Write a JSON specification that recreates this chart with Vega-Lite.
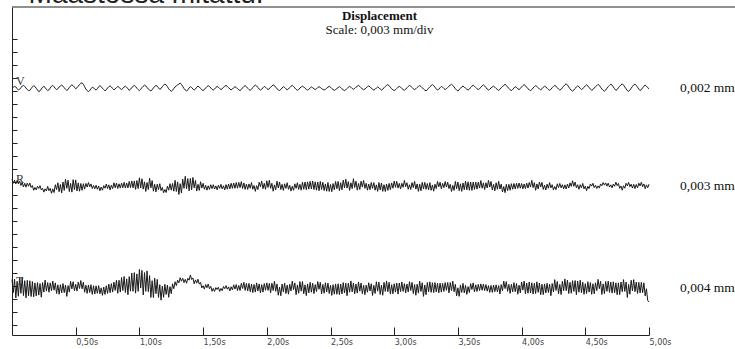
{
"$schema": "https://vega.github.io/schema/vega-lite/v6.json",
"width": 637, "height": 328,
"autosize": {"type": "none"},
"padding": {"left": 12, "top": 7, "right": 86, "bottom": 14},
"background": "white",
"config": {"view": {"stroke": null}},
"title": {"text": "Displacement", "subtitle": "Scale: 0,003 mm/div", "anchor": "middle", "frame": "group", "offset": -56, "dx": 49, "font": "Liberation Serif", "fontSize": 13, "fontWeight": "bold", "color": "#111", "subtitleFont": "Liberation Serif", "subtitleFontSize": 13, "subtitleColor": "#111", "subtitlePadding": 1},
"datasets": {
"meta": [
{"series": "V", "level": 1920, "scale": "0,002 mm"},
{"series": "R", "level": 1164, "scale": "0,003 mm"},
{"series": "T", "level": 380, "scale": "0,004 mm"}
],
"traces": [
{"t":0.00,"V":1920,"R":1219,"T":446},{"t":0.01,"V":1925,"R":1187,"T":346},{"t":0.02,"V":1932,"R":1211,"T":450},{"t":0.03,"V":1928,"R":1182,"T":305},{"t":0.04,"V":1915,"R":1209,"T":433},{"t":0.05,"V":1905,"R":1183,"T":318},{"t":0.06,"V":1910,"R":1203,"T":460},{"t":0.07,"V":1922,"R":1170,"T":341},{"t":0.08,"V":1935,"R":1195,"T":464},{"t":0.09,"V":1940,"R":1159,"T":323},
{"t":0.10,"V":1932,"R":1187,"T":438},{"t":0.11,"V":1920,"R":1157,"T":306},{"t":0.12,"V":1908,"R":1188,"T":440},{"t":0.13,"V":1900,"R":1164,"T":322},{"t":0.14,"V":1902,"R":1189,"T":437},{"t":0.15,"V":1915,"R":1155,"T":316},{"t":0.16,"V":1928,"R":1170,"T":431},{"t":0.17,"V":1938,"R":1133,"T":314},{"t":0.18,"V":1932,"R":1155,"T":421},{"t":0.19,"V":1918,"R":1136,"T":321},
{"t":0.20,"V":1905,"R":1164,"T":423},{"t":0.21,"V":1892,"R":1147,"T":327},{"t":0.22,"V":1898,"R":1169,"T":416},{"t":0.23,"V":1912,"R":1136,"T":311},{"t":0.24,"V":1926,"R":1149,"T":423},{"t":0.25,"V":1932,"R":1119,"T":350},{"t":0.26,"V":1924,"R":1144,"T":442},{"t":0.27,"V":1910,"R":1128,"T":357},{"t":0.28,"V":1900,"R":1164,"T":423},{"t":0.29,"V":1906,"R":1130,"T":349},
{"t":0.30,"V":1920,"R":1148,"T":421},{"t":0.31,"V":1934,"R":1110,"T":361},{"t":0.32,"V":1940,"R":1144,"T":435},{"t":0.33,"V":1930,"R":1116,"T":365},{"t":0.34,"V":1916,"R":1176,"T":421},{"t":0.35,"V":1908,"R":1139,"T":339},{"t":0.36,"V":1914,"R":1191,"T":406},{"t":0.37,"V":1928,"R":1122,"T":333},{"t":0.38,"V":1936,"R":1178,"T":407},{"t":0.39,"V":1942,"R":1113,"T":344},
{"t":0.40,"V":1934,"R":1197,"T":416},{"t":0.41,"V":1922,"R":1132,"T":346},{"t":0.42,"V":1910,"R":1219,"T":404},{"t":0.43,"V":1902,"R":1148,"T":317},{"t":0.44,"V":1908,"R":1210,"T":400},{"t":0.45,"V":1924,"R":1123,"T":350},{"t":0.46,"V":1936,"R":1186,"T":432},{"t":0.47,"V":1944,"R":1119,"T":375},{"t":0.48,"V":1938,"R":1215,"T":430},{"t":0.49,"V":1926,"R":1138,"T":361},
{"t":0.50,"V":1914,"R":1213,"T":410},{"t":0.51,"V":1922,"R":1128,"T":358},{"t":0.52,"V":1934,"R":1190,"T":427},{"t":0.53,"V":1946,"R":1126,"T":378},{"t":0.54,"V":1956,"R":1185,"T":439},{"t":0.55,"V":1960,"R":1133,"T":375},{"t":0.56,"V":1948,"R":1184,"T":426},{"t":0.57,"V":1930,"R":1142,"T":349},{"t":0.58,"V":1912,"R":1186,"T":403},{"t":0.59,"V":1900,"R":1158,"T":340},
{"t":0.60,"V":1892,"R":1193,"T":405},{"t":0.61,"V":1900,"R":1160,"T":347},{"t":0.62,"V":1914,"R":1182,"T":407},{"t":0.63,"V":1926,"R":1146,"T":333},{"t":0.64,"V":1922,"R":1170,"T":399},{"t":0.65,"V":1910,"R":1145,"T":335},{"t":0.66,"V":1904,"R":1172,"T":398},{"t":0.67,"V":1914,"R":1141,"T":341},{"t":0.68,"V":1930,"R":1166,"T":400},{"t":0.69,"V":1938,"R":1129,"T":337},
{"t":0.70,"V":1930,"R":1158,"T":383},{"t":0.71,"V":1918,"R":1134,"T":325},{"t":0.72,"V":1908,"R":1169,"T":389},{"t":0.73,"V":1898,"R":1149,"T":332},{"t":0.74,"V":1906,"R":1181,"T":399},{"t":0.75,"V":1920,"R":1147,"T":340},{"t":0.76,"V":1930,"R":1175,"T":412},{"t":0.77,"V":1936,"R":1136,"T":345},{"t":0.78,"V":1928,"R":1172,"T":415},{"t":0.79,"V":1916,"R":1146,"T":350},
{"t":0.80,"V":1906,"R":1191,"T":427},{"t":0.81,"V":1912,"R":1153,"T":363},{"t":0.82,"V":1924,"R":1188,"T":441},{"t":0.83,"V":1932,"R":1147,"T":341},{"t":0.84,"V":1926,"R":1183,"T":441},{"t":0.85,"V":1914,"R":1150,"T":350},{"t":0.86,"V":1908,"R":1188,"T":462},{"t":0.87,"V":1916,"R":1153,"T":362},{"t":0.88,"V":1928,"R":1194,"T":470},{"t":0.89,"V":1934,"R":1150,"T":347},
{"t":0.90,"V":1926,"R":1189,"T":452},{"t":0.91,"V":1914,"R":1151,"T":330},{"t":0.92,"V":1902,"R":1201,"T":469},{"t":0.93,"V":1910,"R":1154,"T":357},{"t":0.94,"V":1924,"R":1205,"T":497},{"t":0.95,"V":1932,"R":1152,"T":356},{"t":0.96,"V":1940,"R":1205,"T":500},{"t":0.97,"V":1932,"R":1140,"T":342},{"t":0.98,"V":1918,"R":1208,"T":490},{"t":0.99,"V":1908,"R":1146,"T":356},
{"t":1.00,"V":1900,"R":1229,"T":524},{"t":1.01,"V":1910,"R":1151,"T":381},{"t":1.02,"V":1924,"R":1222,"T":517},{"t":1.03,"V":1934,"R":1142,"T":328},{"t":1.04,"V":1942,"R":1198,"T":500},{"t":1.05,"V":1936,"R":1124,"T":356},{"t":1.06,"V":1924,"R":1193,"T":513},{"t":1.07,"V":1912,"R":1139,"T":353},{"t":1.08,"V":1904,"R":1226,"T":477},{"t":1.09,"V":1898,"R":1152,"T":309},
{"t":1.10,"V":1906,"R":1208,"T":438},{"t":1.11,"V":1920,"R":1126,"T":308},{"t":1.12,"V":1932,"R":1179,"T":457},{"t":1.13,"V":1940,"R":1121,"T":338},{"t":1.14,"V":1934,"R":1180,"T":448},{"t":1.15,"V":1922,"R":1138,"T":309},{"t":1.16,"V":1910,"R":1184,"T":407},{"t":1.17,"V":1916,"R":1131,"T":288},{"t":1.18,"V":1930,"R":1155,"T":396},{"t":1.19,"V":1942,"R":1114,"T":310},
{"t":1.20,"V":1950,"R":1139,"T":410},{"t":1.21,"V":1944,"R":1116,"T":332},{"t":1.22,"V":1930,"R":1165,"T":404},{"t":1.23,"V":1914,"R":1134,"T":310},{"t":1.24,"V":1902,"R":1184,"T":392},{"t":1.25,"V":1894,"R":1134,"T":338},{"t":1.26,"V":1902,"R":1186,"T":414},{"t":1.27,"V":1916,"R":1126,"T":376},{"t":1.28,"V":1928,"R":1210,"T":430},{"t":1.29,"V":1936,"R":1124,"T":400},
{"t":1.30,"V":1944,"R":1198,"T":441},{"t":1.31,"V":1950,"R":1101,"T":421},{"t":1.32,"V":1958,"R":1184,"T":461},{"t":1.33,"V":1948,"R":1112,"T":434},{"t":1.34,"V":1932,"R":1219,"T":457},{"t":1.35,"V":1916,"R":1148,"T":423},{"t":1.36,"V":1904,"R":1241,"T":448},{"t":1.37,"V":1896,"R":1145,"T":418},{"t":1.38,"V":1906,"R":1223,"T":456},{"t":1.39,"V":1920,"R":1129,"T":442},
{"t":1.40,"V":1930,"R":1224,"T":482},{"t":1.41,"V":1924,"R":1137,"T":447},{"t":1.42,"V":1912,"R":1232,"T":459},{"t":1.43,"V":1904,"R":1152,"T":414},{"t":1.44,"V":1912,"R":1209,"T":444},{"t":1.45,"V":1926,"R":1127,"T":419},{"t":1.46,"V":1934,"R":1179,"T":449},{"t":1.47,"V":1928,"R":1132,"T":411},{"t":1.48,"V":1916,"R":1199,"T":425},{"t":1.49,"V":1906,"R":1150,"T":382},
{"t":1.50,"V":1900,"R":1187,"T":399},{"t":1.51,"V":1908,"R":1141,"T":373},{"t":1.52,"V":1920,"R":1171,"T":408},{"t":1.53,"V":1930,"R":1134,"T":384},{"t":1.54,"V":1938,"R":1168,"T":412},{"t":1.55,"V":1932,"R":1140,"T":376},{"t":1.56,"V":1920,"R":1176,"T":394},{"t":1.57,"V":1910,"R":1146,"T":356},{"t":1.58,"V":1904,"R":1176,"T":379},{"t":1.59,"V":1912,"R":1143,"T":355},
{"t":1.60,"V":1924,"R":1167,"T":385},{"t":1.61,"V":1932,"R":1137,"T":370},{"t":1.62,"V":1926,"R":1172,"T":387},{"t":1.63,"V":1916,"R":1148,"T":355},{"t":1.64,"V":1908,"R":1179,"T":378},{"t":1.65,"V":1914,"R":1143,"T":361},{"t":1.66,"V":1926,"R":1168,"T":393},{"t":1.67,"V":1934,"R":1136,"T":376},{"t":1.68,"V":1940,"R":1177,"T":400},{"t":1.69,"V":1932,"R":1142,"T":372},
{"t":1.70,"V":1922,"R":1181,"T":390},{"t":1.71,"V":1912,"R":1144,"T":359},{"t":1.72,"V":1906,"R":1187,"T":391},{"t":1.73,"V":1912,"R":1148,"T":367},{"t":1.74,"V":1922,"R":1189,"T":406},{"t":1.75,"V":1930,"R":1148,"T":373},{"t":1.76,"V":1924,"R":1193,"T":408},{"t":1.77,"V":1914,"R":1149,"T":362},{"t":1.78,"V":1906,"R":1194,"T":401},{"t":1.79,"V":1900,"R":1154,"T":362},
{"t":1.80,"V":1908,"R":1200,"T":417},{"t":1.81,"V":1922,"R":1147,"T":378},{"t":1.82,"V":1932,"R":1190,"T":425},{"t":1.83,"V":1938,"R":1140,"T":363},{"t":1.84,"V":1930,"R":1181,"T":417},{"t":1.85,"V":1918,"R":1140,"T":359},{"t":1.86,"V":1908,"R":1182,"T":417},{"t":1.87,"V":1902,"R":1149,"T":353},{"t":1.88,"V":1910,"R":1193,"T":411},{"t":1.89,"V":1924,"R":1141,"T":346},
{"t":1.90,"V":1934,"R":1170,"T":408},{"t":1.91,"V":1942,"R":1125,"T":350},{"t":1.92,"V":1936,"R":1169,"T":421},{"t":1.93,"V":1924,"R":1139,"T":358},{"t":1.94,"V":1912,"R":1195,"T":413},{"t":1.95,"V":1904,"R":1160,"T":344},{"t":1.96,"V":1910,"R":1204,"T":407},{"t":1.97,"V":1922,"R":1145,"T":350},{"t":1.98,"V":1932,"R":1187,"T":416},{"t":1.99,"V":1926,"R":1141,"T":364},
{"t":2.00,"V":1916,"R":1206,"T":421},{"t":2.01,"V":1908,"R":1155,"T":363},{"t":2.02,"V":1914,"R":1210,"T":416},{"t":2.03,"V":1926,"R":1148,"T":345},{"t":2.04,"V":1936,"R":1187,"T":419},{"t":2.05,"V":1944,"R":1126,"T":362},{"t":2.06,"V":1938,"R":1175,"T":433},{"t":2.07,"V":1926,"R":1137,"T":356},{"t":2.08,"V":1914,"R":1203,"T":413},{"t":2.09,"V":1906,"R":1151,"T":326},
{"t":2.10,"V":1900,"R":1197,"T":389},{"t":2.11,"V":1908,"R":1139,"T":322},{"t":2.12,"V":1920,"R":1179,"T":412},{"t":2.13,"V":1930,"R":1132,"T":352},{"t":2.14,"V":1924,"R":1183,"T":419},{"t":2.15,"V":1914,"R":1148,"T":339},{"t":2.16,"V":1906,"R":1191,"T":404},{"t":2.17,"V":1912,"R":1141,"T":334},{"t":2.18,"V":1924,"R":1171,"T":410},{"t":2.19,"V":1934,"R":1127,"T":359},
{"t":2.20,"V":1940,"R":1164,"T":434},{"t":2.21,"V":1932,"R":1133,"T":369},{"t":2.22,"V":1920,"R":1183,"T":421},{"t":2.23,"V":1910,"R":1148,"T":330},{"t":2.24,"V":1902,"R":1191,"T":405},{"t":2.25,"V":1908,"R":1140,"T":341},{"t":2.26,"V":1920,"R":1179,"T":431},{"t":2.27,"V":1928,"R":1134,"T":357},{"t":2.28,"V":1934,"R":1195,"T":431},{"t":2.29,"V":1928,"R":1141,"T":337},
{"t":2.30,"V":1918,"R":1197,"T":406},{"t":2.31,"V":1910,"R":1138,"T":323},{"t":2.32,"V":1904,"R":1198,"T":413},{"t":2.33,"V":1910,"R":1142,"T":344},{"t":2.34,"V":1920,"R":1202,"T":425},{"t":2.35,"V":1928,"R":1144,"T":349},{"t":2.36,"V":1922,"R":1205,"T":418},{"t":2.37,"V":1914,"R":1139,"T":338},{"t":2.38,"V":1908,"R":1198,"T":408},{"t":2.39,"V":1914,"R":1134,"T":354},
{"t":2.40,"V":1924,"R":1197,"T":431},{"t":2.41,"V":1930,"R":1130,"T":372},{"t":2.42,"V":1924,"R":1201,"T":425},{"t":2.43,"V":1916,"R":1139,"T":336},{"t":2.44,"V":1910,"R":1195,"T":409},{"t":2.45,"V":1904,"R":1131,"T":341},{"t":2.46,"V":1910,"R":1182,"T":422},{"t":2.47,"V":1918,"R":1126,"T":351},{"t":2.48,"V":1926,"R":1193,"T":420},{"t":2.49,"V":1932,"R":1124,"T":339},
{"t":2.50,"V":1926,"R":1178,"T":402},{"t":2.51,"V":1916,"R":1122,"T":325},{"t":2.52,"V":1908,"R":1185,"T":407},{"t":2.53,"V":1902,"R":1137,"T":334},{"t":2.54,"V":1908,"R":1201,"T":413},{"t":2.55,"V":1916,"R":1145,"T":333},{"t":2.56,"V":1924,"R":1201,"T":414},{"t":2.57,"V":1930,"R":1130,"T":331},{"t":2.58,"V":1924,"R":1191,"T":412},{"t":2.59,"V":1914,"R":1137,"T":336},
{"t":2.60,"V":1906,"R":1211,"T":423},{"t":2.61,"V":1900,"R":1152,"T":343},{"t":2.62,"V":1906,"R":1219,"T":418},{"t":2.63,"V":1916,"R":1150,"T":322},{"t":2.64,"V":1926,"R":1200,"T":419},{"t":2.65,"V":1932,"R":1132,"T":349},{"t":2.66,"V":1926,"R":1191,"T":436},{"t":2.67,"V":1916,"R":1146,"T":352},{"t":2.68,"V":1910,"R":1222,"T":420},{"t":2.69,"V":1916,"R":1155,"T":337},
{"t":2.70,"V":1926,"R":1203,"T":412},{"t":2.71,"V":1934,"R":1134,"T":343},{"t":2.72,"V":1940,"R":1186,"T":428},{"t":2.73,"V":1932,"R":1139,"T":357},{"t":2.74,"V":1922,"R":1203,"T":420},{"t":2.75,"V":1912,"R":1158,"T":338},{"t":2.76,"V":1906,"R":1209,"T":402},{"t":2.77,"V":1912,"R":1148,"T":330},{"t":2.78,"V":1922,"R":1187,"T":403},{"t":2.79,"V":1930,"R":1134,"T":349},
{"t":2.80,"V":1936,"R":1181,"T":422},{"t":2.81,"V":1930,"R":1138,"T":359},{"t":2.82,"V":1920,"R":1193,"T":414},{"t":2.83,"V":1910,"R":1148,"T":324},{"t":2.84,"V":1904,"R":1192,"T":402},{"t":2.85,"V":1910,"R":1134,"T":339},{"t":2.86,"V":1920,"R":1175,"T":430},{"t":2.87,"V":1928,"R":1125,"T":357},{"t":2.88,"V":1922,"R":1193,"T":427},{"t":2.89,"V":1912,"R":1136,"T":332},
{"t":2.90,"V":1904,"R":1189,"T":404},{"t":2.91,"V":1910,"R":1125,"T":326},{"t":2.92,"V":1922,"R":1176,"T":425},{"t":2.93,"V":1932,"R":1124,"T":355},{"t":2.94,"V":1940,"R":1181,"T":436},{"t":2.95,"V":1946,"R":1132,"T":353},{"t":2.96,"V":1938,"R":1186,"T":425},{"t":2.97,"V":1926,"R":1138,"T":335},{"t":2.98,"V":1914,"R":1190,"T":407},{"t":2.99,"V":1906,"R":1149,"T":337},
{"t":3.00,"V":1900,"R":1204,"T":414},{"t":3.01,"V":1906,"R":1156,"T":350},{"t":3.02,"V":1916,"R":1201,"T":419},{"t":3.03,"V":1926,"R":1150,"T":335},{"t":3.04,"V":1932,"R":1186,"T":420},{"t":3.05,"V":1926,"R":1143,"T":354},{"t":3.06,"V":1916,"R":1187,"T":428},{"t":3.07,"V":1908,"R":1156,"T":355},{"t":3.08,"V":1902,"R":1209,"T":415},{"t":3.09,"V":1910,"R":1161,"T":344},
{"t":3.10,"V":1922,"R":1191,"T":412},{"t":3.11,"V":1932,"R":1141,"T":351},{"t":3.12,"V":1940,"R":1176,"T":430},{"t":3.13,"V":1934,"R":1139,"T":362},{"t":3.14,"V":1924,"R":1192,"T":425},{"t":3.15,"V":1914,"R":1154,"T":339},{"t":3.16,"V":1908,"R":1202,"T":408},{"t":3.17,"V":1914,"R":1142,"T":326},{"t":3.18,"V":1924,"R":1182,"T":410},{"t":3.19,"V":1932,"R":1125,"T":342},
{"t":3.20,"V":1938,"R":1180,"T":434},{"t":3.21,"V":1932,"R":1129,"T":355},{"t":3.22,"V":1922,"R":1194,"T":422},{"t":3.23,"V":1912,"R":1144,"T":317},{"t":3.24,"V":1904,"R":1194,"T":405},{"t":3.25,"V":1898,"R":1141,"T":330},{"t":3.26,"V":1906,"R":1185,"T":424},{"t":3.27,"V":1918,"R":1136,"T":352},{"t":3.28,"V":1930,"R":1192,"T":429},{"t":3.29,"V":1938,"R":1133,"T":348},
{"t":3.30,"V":1946,"R":1174,"T":422},{"t":3.31,"V":1938,"R":1126,"T":346},{"t":3.32,"V":1926,"R":1180,"T":424},{"t":3.33,"V":1914,"R":1146,"T":352},{"t":3.34,"V":1904,"R":1201,"T":417},{"t":3.35,"V":1910,"R":1160,"T":344},{"t":3.36,"V":1922,"R":1195,"T":419},{"t":3.37,"V":1932,"R":1145,"T":350},{"t":3.38,"V":1926,"R":1186,"T":417},{"t":3.39,"V":1916,"R":1154,"T":355},
{"t":3.40,"V":1908,"R":1200,"T":423},{"t":3.41,"V":1914,"R":1158,"T":364},{"t":3.42,"V":1924,"R":1195,"T":424},{"t":3.43,"V":1934,"R":1146,"T":344},{"t":3.44,"V":1942,"R":1179,"T":423},{"t":3.45,"V":1948,"R":1124,"T":361},{"t":3.46,"V":1940,"R":1171,"T":434},{"t":3.47,"V":1928,"R":1132,"T":353},{"t":3.48,"V":1914,"R":1201,"T":410},{"t":3.49,"V":1904,"R":1145,"T":321},
{"t":3.50,"V":1898,"R":1197,"T":383},{"t":3.51,"V":1906,"R":1130,"T":317},{"t":3.52,"V":1918,"R":1183,"T":405},{"t":3.53,"V":1928,"R":1125,"T":347},{"t":3.54,"V":1934,"R":1189,"T":417},{"t":3.55,"V":1928,"R":1138,"T":344},{"t":3.56,"V":1918,"R":1203,"T":402},{"t":3.57,"V":1910,"R":1137,"T":332},{"t":3.58,"V":1904,"R":1198,"T":392},{"t":3.59,"V":1912,"R":1133,"T":347},
{"t":3.60,"V":1924,"R":1197,"T":415},{"t":3.61,"V":1934,"R":1132,"T":370},{"t":3.62,"V":1942,"R":1196,"T":421},{"t":3.63,"V":1934,"R":1140,"T":352},{"t":3.64,"V":1924,"R":1196,"T":406},{"t":3.65,"V":1914,"R":1142,"T":355},{"t":3.66,"V":1908,"R":1196,"T":409},{"t":3.67,"V":1914,"R":1150,"T":362},{"t":3.68,"V":1926,"R":1208,"T":413},{"t":3.69,"V":1936,"R":1149,"T":364},
{"t":3.70,"V":1944,"R":1190,"T":412},{"t":3.71,"V":1936,"R":1139,"T":362},{"t":3.72,"V":1924,"R":1191,"T":408},{"t":3.73,"V":1912,"R":1151,"T":357},{"t":3.74,"V":1904,"R":1209,"T":400},{"t":3.75,"V":1910,"R":1158,"T":348},{"t":3.76,"V":1920,"R":1201,"T":401},{"t":3.77,"V":1928,"R":1136,"T":348},{"t":3.78,"V":1934,"R":1179,"T":404},{"t":3.79,"V":1926,"R":1129,"T":353},
{"t":3.80,"V":1916,"R":1191,"T":406},{"t":3.81,"V":1908,"R":1141,"T":353},{"t":3.82,"V":1902,"R":1202,"T":400},{"t":3.83,"V":1910,"R":1143,"T":335},{"t":3.84,"V":1922,"R":1181,"T":408},{"t":3.85,"V":1932,"R":1120,"T":360},{"t":3.86,"V":1940,"R":1162,"T":434},{"t":3.87,"V":1948,"R":1115,"T":377},{"t":3.88,"V":1940,"R":1179,"T":431},{"t":3.89,"V":1928,"R":1130,"T":356},
{"t":3.90,"V":1916,"R":1179,"T":409},{"t":3.91,"V":1906,"R":1133,"T":340},{"t":3.92,"V":1900,"R":1184,"T":410},{"t":3.93,"V":1908,"R":1141,"T":352},{"t":3.94,"V":1920,"R":1185,"T":423},{"t":3.95,"V":1930,"R":1143,"T":353},{"t":3.96,"V":1924,"R":1187,"T":416},{"t":3.97,"V":1914,"R":1148,"T":334},{"t":3.98,"V":1908,"R":1189,"T":403},{"t":3.99,"V":1916,"R":1149,"T":344},
{"t":4.00,"V":1928,"R":1185,"T":428},{"t":4.01,"V":1938,"R":1144,"T":365},{"t":4.02,"V":1946,"R":1182,"T":435},{"t":4.03,"V":1938,"R":1146,"T":337},{"t":4.04,"V":1926,"R":1188,"T":419},{"t":4.05,"V":1914,"R":1150,"T":341},{"t":4.06,"V":1906,"R":1193,"T":428},{"t":4.07,"V":1900,"R":1159,"T":343},{"t":4.08,"V":1908,"R":1210,"T":422},{"t":4.09,"V":1920,"R":1154,"T":336},
{"t":4.10,"V":1930,"R":1192,"T":417},{"t":4.11,"V":1938,"R":1133,"T":339},{"t":4.12,"V":1932,"R":1182,"T":429},{"t":4.13,"V":1922,"R":1144,"T":348},{"t":4.14,"V":1912,"R":1197,"T":420},{"t":4.15,"V":1906,"R":1159,"T":330},{"t":4.16,"V":1914,"R":1194,"T":410},{"t":4.17,"V":1926,"R":1140,"T":331},{"t":4.18,"V":1934,"R":1172,"T":413},{"t":4.19,"V":1928,"R":1135,"T":343},
{"t":4.20,"V":1918,"R":1180,"T":418},{"t":4.21,"V":1908,"R":1149,"T":347},{"t":4.22,"V":1902,"R":1192,"T":410},{"t":4.23,"V":1910,"R":1152,"T":322},{"t":4.24,"V":1922,"R":1176,"T":416},{"t":4.25,"V":1932,"R":1135,"T":351},{"t":4.26,"V":1940,"R":1162,"T":446},{"t":4.27,"V":1934,"R":1138,"T":363},{"t":4.28,"V":1922,"R":1183,"T":432},{"t":4.29,"V":1912,"R":1154,"T":337},
{"t":4.30,"V":1904,"R":1186,"T":409},{"t":4.31,"V":1910,"R":1152,"T":331},{"t":4.32,"V":1922,"R":1176,"T":433},{"t":4.33,"V":1934,"R":1144,"T":361},{"t":4.34,"V":1944,"R":1175,"T":451},{"t":4.35,"V":1952,"R":1143,"T":361},{"t":4.36,"V":1942,"R":1181,"T":442},{"t":4.37,"V":1928,"R":1151,"T":339},{"t":4.38,"V":1914,"R":1190,"T":425},{"t":4.39,"V":1902,"R":1163,"T":341},
{"t":4.40,"V":1896,"R":1206,"T":438},{"t":4.41,"V":1904,"R":1164,"T":355},{"t":4.42,"V":1916,"R":1196,"T":439},{"t":4.43,"V":1928,"R":1152,"T":330},{"t":4.44,"V":1936,"R":1176,"T":435},{"t":4.45,"V":1930,"R":1141,"T":349},{"t":4.46,"V":1918,"R":1176,"T":441},{"t":4.47,"V":1908,"R":1152,"T":345},{"t":4.48,"V":1914,"R":1186,"T":426},{"t":4.49,"V":1926,"R":1144,"T":333},
{"t":4.50,"V":1936,"R":1165,"T":415},{"t":4.51,"V":1944,"R":1130,"T":339},{"t":4.52,"V":1936,"R":1163,"T":430},{"t":4.53,"V":1924,"R":1146,"T":350},{"t":4.54,"V":1912,"R":1182,"T":423},{"t":4.55,"V":1902,"R":1165,"T":333},{"t":4.56,"V":1908,"R":1187,"T":414},{"t":4.57,"V":1920,"R":1154,"T":337},{"t":4.58,"V":1930,"R":1172,"T":422},{"t":4.59,"V":1938,"R":1147,"T":361},
{"t":4.60,"V":1948,"R":1167,"T":448},{"t":4.61,"V":1940,"R":1150,"T":376},{"t":4.62,"V":1926,"R":1182,"T":433},{"t":4.63,"V":1912,"R":1168,"T":332},{"t":4.64,"V":1902,"R":1193,"T":413},{"t":4.65,"V":1896,"R":1173,"T":338},{"t":4.66,"V":1904,"R":1190,"T":431},{"t":4.67,"V":1918,"R":1165,"T":356},{"t":4.68,"V":1930,"R":1188,"T":435},{"t":4.69,"V":1940,"R":1158,"T":348},
{"t":4.70,"V":1950,"R":1175,"T":427},{"t":4.71,"V":1942,"R":1152,"T":342},{"t":4.72,"V":1928,"R":1181,"T":429},{"t":4.73,"V":1914,"R":1164,"T":344},{"t":4.74,"V":1902,"R":1196,"T":421},{"t":4.75,"V":1908,"R":1169,"T":330},{"t":4.76,"V":1922,"R":1186,"T":421},{"t":4.77,"V":1934,"R":1148,"T":331},{"t":4.78,"V":1944,"R":1166,"T":427},{"t":4.79,"V":1952,"R":1134,"T":353},
{"t":4.80,"V":1942,"R":1168,"T":446},{"t":4.81,"V":1928,"R":1149,"T":355},{"t":4.82,"V":1914,"R":1187,"T":428},{"t":4.83,"V":1900,"R":1167,"T":309},{"t":4.84,"V":1894,"R":1194,"T":409},{"t":4.85,"V":1904,"R":1161,"T":334},{"t":4.86,"V":1918,"R":1180,"T":441},{"t":4.87,"V":1932,"R":1150,"T":360},{"t":4.88,"V":1944,"R":1179,"T":446},{"t":4.89,"V":1950,"R":1146,"T":353},
{"t":4.90,"V":1940,"R":1178,"T":427},{"t":4.91,"V":1926,"R":1152,"T":339},{"t":4.92,"V":1912,"R":1188,"T":425},{"t":4.93,"V":1900,"R":1167,"T":344},{"t":4.94,"V":1908,"R":1195,"T":425},{"t":4.95,"V":1922,"R":1161,"T":346},{"t":4.96,"V":1934,"R":1182,"T":421},{"t":4.97,"V":1942,"R":1145,"T":321},{"t":4.98,"V":1934,"R":1175,"T":376},{"t":4.99,"V":1922,"R":1153,"T":284},
{"t":5.00,"V":1914,"R":1180,"T":275}
]
},
"layer": [
{
"data": {"name": "traces"},
"transform": [{"fold": ["V", "R", "T"], "as": ["series", "value"]}],
"mark": {"type": "line", "stroke": "#1a1a1a", "strokeWidth": 1, "clip": false},
"encoding": {
"x": {"field": "t", "type": "quantitative", "scale": {"domain": [0, 5], "nice": false, "zero": false},
"axis": {"values": [0.5, 1, 1.5, 2, 2.5, 3, 3.5, 4, 4.5, 5], "tickCount": 20, "labelExpr": "replace(format(datum.value, '.2f'), '.', ',') + 's'", "tickSize": -8, "tickColor": "#222", "domainColor": "#222", "labelAlign": "left", "labelBaseline": "top", "labelFont": "DejaVu Sans", "labelFontSize": 8, "labelColor": "#444", "labelPadding": 11, "labelFlush": false, "labelOverlap": false, "title": null, "grid": false}},
"y": {"field": "value", "type": "quantitative", "scale": {"domain": [20, 2543], "nice": false, "zero": false},
"axis": {"values": [96.92, 196.92, 296.92, 396.92, 496.92, 596.92, 696.92, 796.92, 896.92, 996.92, 1096.92, 1196.92, 1296.92, 1396.92, 1496.92, 1596.92, 1696.92, 1796.92, 1896.92, 1996.92, 2096.92, 2196.92, 2296.92], "tickCount": 40, "labels": false, "tickSize": -5, "tickColor": "#222", "domainColor": "#222", "title": null, "grid": false}},
"detail": {"field": "series"}
}
},
{
"data": {"name": "meta"},
"mark": {"type": "text", "align": "left", "baseline": "alphabetic", "dx": 4, "dy": -3, "font": "Liberation Serif", "fontSize": 12, "color": "#333"},
"encoding": {"x": {"datum": 0, "type": "quantitative"}, "y": {"field": "level", "type": "quantitative"}, "text": {"field": "series"}}
},
{
"data": {"name": "meta"},
"mark": {"type": "text", "align": "left", "baseline": "middle", "dx": 31, "font": "Liberation Serif", "fontSize": 13.5, "color": "#111"},
"encoding": {"x": {"datum": 5, "type": "quantitative"}, "y": {"field": "level", "type": "quantitative"}, "text": {"field": "scale"}}
},
{
"data": {"values": [{}]},
"mark": {"type": "rule", "stroke": "#222", "strokeWidth": 1},
"encoding": {"x": {"datum": 0, "type": "quantitative"}, "x2": {"datum": 5.68}, "y": {"datum": 2543, "type": "quantitative"}}
},
{
"data": {"values": [{}]},
"mark": {"type": "text", "text": "Maastossa mitattu.", "align": "left", "baseline": "alphabetic", "font": "Liberation Sans", "fontSize": 28, "color": "#222"},
"encoding": {"x": {"datum": 0.13, "type": "quantitative"}, "y": {"datum": 2574, "type": "quantitative"}}
}
]
}
